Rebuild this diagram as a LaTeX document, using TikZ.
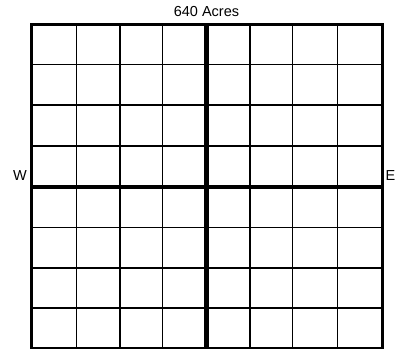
\documentclass[tikz,border=0pt]{standalone}
\usepackage{fontspec}
\setmainfont{Liberation Sans}
\begin{document}
\begin{tikzpicture}[x=1pt,y=-1pt,
  thin line/.style={line width=1.3pt,black},
  mid line/.style={line width=4.5pt,black},
  outer line/.style={line width=3pt,black},
  lbl/.style={font=\fontsize{14.5}{17}\selectfont,inner sep=0pt}]
\useasboundingbox[fill=white] (0,0) rectangle (398,348);
\begin{scope}
\clip (0,0) rectangle (398,348);
\foreach \x in {76.3,120,162.7,250,292.7,337.3}
  \draw[thin line] (\x,24.5) -- (\x,348.2);
\foreach \y in {64.3,105,146,227.3,268,308}
  \draw[thin line] (31.5,\y) -- (382,\y);
\draw[mid line] (206.5,24.5) -- (206.5,348.2);
\draw[mid line] (31.5,187) -- (382,187);
\draw[outer line] (31.5,24.5) rectangle (382,348.2);
\end{scope}
\node[lbl] (title) at (206.5,12) {640 Acres};
\node[lbl] (w) at (20,175.5) {W};
\node[lbl] (e) at (390.5,176) {E};
\end{tikzpicture}
\end{document}
